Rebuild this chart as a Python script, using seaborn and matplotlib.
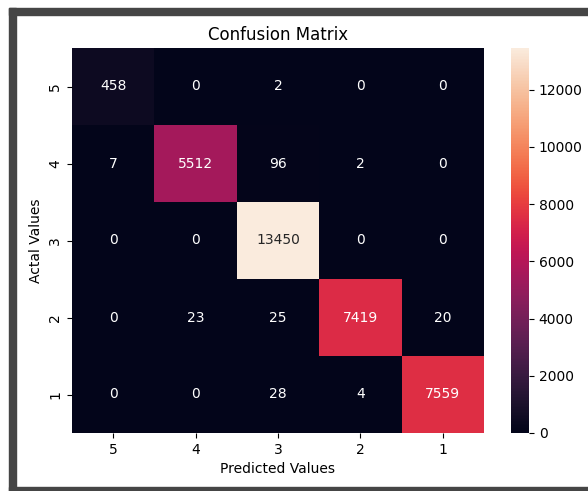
import numpy as np
import matplotlib
matplotlib.use("Agg")
import matplotlib.pyplot as plt
import seaborn as sns
from matplotlib.patches import Rectangle

labels = ["5", "4", "3", "2", "1"]
row_5 = [458, 0, 2, 0, 0]
row_4 = [7, 5512, 96, 2, 0]
row_3 = [0, 0, 13450, 0, 0]
row_2 = [0, 23, 25, 7419, 20]
row_1 = [0, 0, 28, 4, 7559]
cm = np.array([row_5, row_4, row_3, row_2, row_1])

W, H = 588, 491
fig = plt.figure(figsize=(W / 100, H / 100), dpi=100)
fig.patch.set_facecolor("white")

ax = fig.add_axes([72 / W, 1 - 433 / H, (484 - 72) / W, (433 - 48) / H])
cax = fig.add_axes([511 / W, 1 - 433 / H, 18 / W, (433 - 48) / H])

sns.heatmap(cm, annot=True, fmt="d", ax=ax, cbar_ax=cax,
            xticklabels=labels, yticklabels=labels,
            annot_kws={"fontsize": 10})
ax.set_yticklabels(labels, rotation=90, va="center")
ax.set_xticklabels(labels, rotation=0)
ax.set_title("Confusion Matrix", fontsize=12)
ax.set_xlabel("Predicted Values", fontsize=10)
ax.set_ylabel("Actal Values", fontsize=10)
ax.tick_params(labelsize=10)
cax.tick_params(labelsize=10)

# screenshot frame
border = "#454545"
for (x0, y0, x1, y1) in [(9, 8, W, 15), (9, 8, 16, H), (9, 487, W, H)]:
    fig.patches.append(Rectangle((x0 / W, 1 - y1 / H), (x1 - x0) / W, (y1 - y0) / H,
                                 transform=fig.transFigure, color=border, zorder=10))

fig.savefig("out.png", dpi=100)
